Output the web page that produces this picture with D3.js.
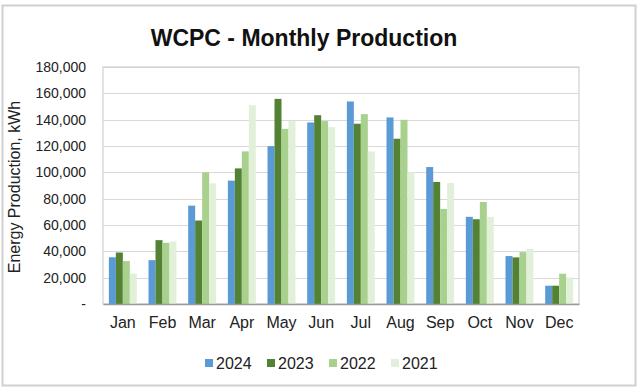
<!DOCTYPE html>
<html>
<head>
<meta charset="utf-8">
<script src="https://cdn.jsdelivr.net/npm/d3@7"></script>
<style>
  body { margin: 0; background: #fff; }
  svg { font-family: "Liberation Sans", Arial, sans-serif; }
</style>
</head>
<body>
<svg id="chart" width="640" height="392"></svg>
<script>
const months = ['Jan', 'Feb', 'Mar', 'Apr', 'May', 'Jun', 'Jul', 'Aug', 'Sep', 'Oct', 'Nov', 'Dec'];
const years = ['2024', '2023', '2022', '2021'];
const colors = ['#5b9bd5', '#548235', '#a9d18e', '#e2f0d9'];

const prod2024 = [35500, 33300, 74700, 93700, 119900, 137900, 153800, 141700, 104000, 66200, 36400, 13900];
const prod2023 = [39100, 48500, 63400, 103000, 155800, 143400, 136900, 125500, 92700, 64400, 35400, 13900];
const prod2022 = [32600, 46500, 100000, 115900, 133000, 138900, 144200, 139900, 72200, 77500, 39400, 23000];
const prod2021 = [23000, 47500, 91700, 151000, 138900, 134300, 115900, 100000, 91900, 66200, 41900, 20200];

const yTicks = [0, 20000, 40000, 60000, 80000, 100000, 120000, 140000, 160000, 180000];

const series = [prod2024, prod2023, prod2022, prod2021];

const svg = d3.select('#chart');
const margin = { top: 67, right: 61, bottom: 88, left: 103 };
const width = 640 - margin.left - margin.right,
    height = 392 - margin.top - margin.bottom;

// outer frame
svg.append('rect')
    .attr('x', 2.5).attr('y', 5.5)
    .attr('width', 633).attr('height', 380)
    .attr('fill', '#fff')
    .attr('stroke', '#d0d0d0')
    .attr('stroke-width', 2);

svg.append('text')
    .attr('x', 304).attr('y', 46)
    .attr('text-anchor', 'middle')
    .attr('font-size', 23)
    .attr('font-weight', 'bold')
    .attr('fill', '#111')
    .text('WCPC - Monthly Production');

const g = svg.append('g').attr('transform', `translate(${margin.left},${margin.top})`);

const x0 = d3.scaleBand().domain(months).range([0, width]).paddingInner(0.295).paddingOuter(0.1475);
const x1 = d3.scaleBand().domain(years).range([0, x0.bandwidth()]);
const y = d3.scaleLinear().domain([0, 180000]).range([height, 0]);

// gridlines
g.append('g')
    .selectAll('line')
    .data(yTicks.slice(1))
    .join('line')
    .attr('x1', 0).attr('x2', width)
    .attr('y1', d => Math.round(y(d)) + 0.5).attr('y2', d => Math.round(y(d)) + 0.5)
    .attr('stroke', '#d9d9d9')
    .attr('stroke-width', 1.2);

// plot border
g.append('rect')
    .attr('x', 0).attr('y', 0)
    .attr('width', width).attr('height', height)
    .attr('fill', 'none')
    .attr('stroke', '#d0d0d0')
    .attr('stroke-width', 1.2);

// bars
const groups = g.append('g')
    .selectAll('g')
    .data(months)
    .join('g')
    .attr('transform', d => `translate(${x0(d)},0)`);

groups.selectAll('rect')
    .data((m, i) => years.map((yr, j) => ({ yr, j, v: series[j][i] })))
    .join('rect')
    .attr('x', d => x1(d.yr))
    .attr('width', x1.bandwidth())
    .attr('y', d => y(d.v))
    .attr('height', d => height - y(d.v))
    .attr('fill', d => colors[d.j]);

// y axis
const yAxis = g.append('g')
    .call(d3.axisLeft(y).tickValues(yTicks).tickSize(0).tickPadding(17)
        .tickFormat(d => d === 0 ? '-' : d3.format(',')(d)));
yAxis.select('.domain').remove();
yAxis.selectAll('text')
    .attr('font-size', 14)
    .attr('font-family', '"Liberation Sans", Arial, sans-serif')
    .attr('fill', '#222');

// x axis
const xAxis = g.append('g')
    .attr('transform', `translate(0,${height})`)
    .call(d3.axisBottom(x0).tickSize(0).tickPadding(13));
xAxis.select('.domain').attr('stroke', '#9a9a9a').attr('stroke-width', 1.5);
xAxis.selectAll('text')
    .attr('font-size', 16)
    .attr('font-family', '"Liberation Sans", Arial, sans-serif')
    .attr('fill', '#222');

// y axis title
svg.append('text')
    .attr('transform', 'translate(20,187) rotate(-90)')
    .attr('text-anchor', 'middle')
    .attr('font-size', 16)
    .attr('fill', '#222')
    .text('Energy Production, kWh');

// legend
const legend = svg.append('g')
    .selectAll('g')
    .data(years)
    .join('g')
    .attr('transform', (d, i) => `translate(${205 + i * 62},363)`);

legend.append('rect')
    .attr('x', 0).attr('y', -4)
    .attr('width', 8).attr('height', 8)
    .attr('fill', (d, i) => colors[i]);

legend.append('text')
    .attr('x', 11).attr('y', 6)
    .attr('font-size', 16)
    .attr('fill', '#222')
    .text(d => d);
</script>
</body>
</html>
